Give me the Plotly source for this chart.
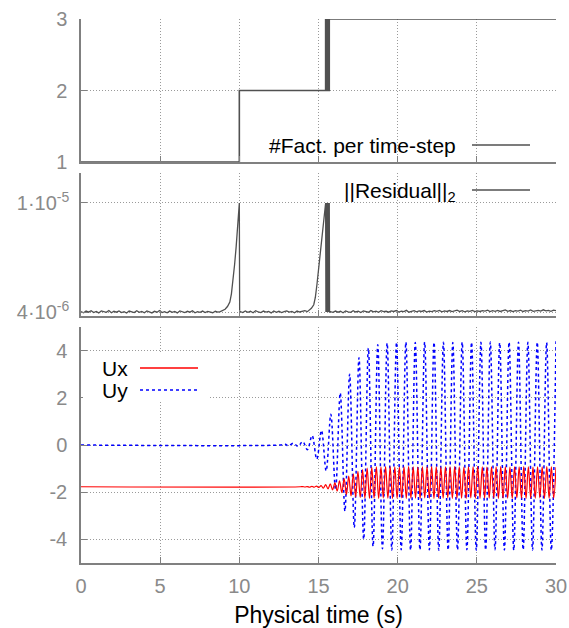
import numpy as np
import plotly.graph_objects as go

# ---------------- data ----------------
# Top panel: number of factorisations per time-step (step function)
fact_t = [0.0, 10.0, 15.45, 15.48, 15.51, 15.54, 15.57, 15.60, 15.63, 15.66, 15.68, 30.0]
fact_v = [1, 2, 3, 2, 3, 2, 3, 2, 3, 2, 3, 3]

# Middle panel: residual norm (units of 1e-6)
res_base1 = [4.02, 3.96, 4.05, 3.99, 4.07, 3.97, 4.03, 3.95, 4.06, 4.01, 3.98, 4.08, 3.96, 4.04,
             3.99, 4.06, 3.97, 4.02, 3.94, 4.05, 4.00, 3.97, 4.07, 3.98, 4.03, 3.96, 4.06, 4.01,
             3.95, 4.04, 3.99, 4.08, 3.97, 4.02, 3.96, 4.05, 3.98, 4.03, 3.95, 4.06, 4.00, 3.97,
             4.04, 3.99, 4.07, 3.96, 4.02, 3.98, 4.05, 3.97, 4.03, 4.00, 3.96, 4.04, 3.99, 4.02]
res_rise1_t = [8.9, 9.1, 9.25, 9.4, 9.5, 9.6, 9.7, 9.8, 9.88, 9.95, 10.0, 10.02]
res_rise1_v = [4.05, 4.15, 4.30, 4.55, 5.0, 5.7, 6.6, 7.6, 8.6, 9.5, 10.0, 4.0]
res_base2 = [4.03, 3.97, 4.06, 3.98, 4.04, 3.96, 4.07, 4.00, 3.97, 4.05, 3.99, 4.03, 3.95, 4.06,
             3.98, 4.04, 3.97, 4.02, 4.06, 3.99, 4.03, 3.96, 4.05, 4.00, 4.04, 4.07, 4.02]
res_rise2_t = [14.4, 14.55, 14.7, 14.8, 14.9, 15.0, 15.1, 15.2, 15.3, 15.38, 15.45,
               15.47, 15.50, 15.53, 15.56, 15.59, 15.62, 15.65, 15.68, 15.70]
res_rise2_v = [4.08, 4.2, 4.4, 4.8, 5.5, 6.3, 7.2, 8.1, 9.0, 9.6, 10.0,
               4.0, 10.0, 4.0, 10.0, 4.0, 10.0, 4.0, 10.0, 4.0]
res_base3 = [4.02, 3.98, 4.05, 3.99, 4.04, 3.96, 4.06, 4.01, 3.98, 4.07, 4.00, 4.04, 3.97, 4.06,
             4.02, 3.99, 4.08, 4.01, 4.05, 3.98, 4.07, 4.02, 4.04, 3.99, 4.06, 4.03, 4.08, 4.00,
             4.05, 4.02, 4.09, 3.99, 4.04, 4.07, 4.01, 4.06, 4.03, 4.08, 4.00, 4.05, 4.02, 4.07,
             4.04, 4.09, 4.01, 4.06, 4.03, 4.08, 4.02, 4.05, 4.10, 4.03, 4.07, 4.01, 4.06, 4.04,
             4.09, 4.02, 4.06, 4.03, 4.08, 4.05, 4.10, 4.02, 4.07, 4.04, 4.09, 4.03, 4.06, 4.11,
             4.04, 4.08, 4.02, 4.07, 4.05, 4.10, 4.03, 4.08, 4.05, 4.11, 4.04, 4.07, 4.09, 4.05,
             4.12, 4.06, 4.09, 4.04, 4.10, 4.07]

# Bottom panel: velocity components
uy_pre_t = [0.0, 12.6, 12.9, 13.1]
uy_pre_v = [0.0, 0.0, 0.03, -0.04]
uy_ext = [0.08, -0.06, 0.15, -0.20, 0.40, -0.60, 0.62, -1.10, 1.30, -1.90, 2.20, -2.80, 3.00,
          -3.50, 3.70, -4.00, 4.10, -4.30, 4.25, -4.40, 4.32,
          -4.45, 4.35, -4.44, 4.36, -4.46, 4.34, -4.45, 4.36, -4.44, 4.35, -4.46, 4.35,
          -4.45, 4.34, -4.45, 4.36, -4.44, 4.35, -4.46, 4.35, -4.45, 4.36, -4.44, 4.34,
          -4.45, 4.36, -4.46, 4.35, -4.44, 4.35, -4.45, 4.36, -4.45, 4.34, -4.46, 4.40]
ux_pre_t = [0.0, 13.85]
ux_pre_v = [-1.77, -1.77]
ux_ext = [-1.76, -1.78, -1.76, -1.79, -1.75, -1.79, -1.74, -1.80, -1.72, -1.83, -1.68, -1.86,
          -1.65, -1.90, -1.60, -1.95, -1.52, -2.02, -1.42, -2.10, -1.32, -2.16, -1.22, -2.20,
          -1.12, -2.23, -1.04, -2.25, -0.98, -2.26, -0.95,
          -2.25, -0.93, -2.26, -0.94, -2.24, -0.92, -2.25, -0.93, -2.26, -0.93, -2.25, -0.94,
          -2.24, -0.93, -2.26, -0.92, -2.25, -0.93, -2.25, -0.94, -2.26, -0.93, -2.24, -0.93,
          -2.25, -0.92, -2.26, -0.93, -2.25, -0.94, -2.25, -0.93, -2.24, -0.93, -2.26, -0.92,
          -2.25, -0.93, -2.25, -0.94, -2.26, -0.93, -2.24, -0.93, -2.25, -0.92, -2.26, -0.93,
          -2.25, -0.94, -2.25, -0.93, -2.24, -0.93, -2.26, -0.92, -2.25, -0.93, -2.25, -0.94,
          -2.26, -0.93, -2.24, -0.93, -2.25, -0.92, -2.26, -0.93, -2.25, -0.94, -2.25, -0.93,
          -2.24, -0.93, -2.26, -0.92, -2.25, -0.93, -2.25, -0.94]

x_ticks = [0, 5, 10, 15, 20, 25, 30]
y1_ticks = [1, 2, 3]
y2_ticks = [4.0, 10.0]
y2_ticktext = ["4·10<sup>-6</sup>", "1·10<sup>-5</sup>"]
y3_ticks = [-4, -2, 0, 2, 4]
y3_ticktext = ["-4", "-2", "0", "2", "4"]

# ------------- assemble series -------------
res_t = (list(np.linspace(0.0, 8.8, len(res_base1))) + res_rise1_t +
         list(np.linspace(10.05, 14.3, len(res_base2))) + res_rise2_t +
         list(np.linspace(15.75, 30.0, len(res_base3))))
res_v = res_base1 + res_rise1_v + res_base2 + res_rise2_v + res_base3

uy_t = uy_pre_t + list(np.linspace(13.41, 30.0, len(uy_ext)))
uy_v = uy_pre_v + uy_ext
ux_t = ux_pre_t + list(np.linspace(14.0, 30.0, len(ux_ext)))
ux_v = ux_pre_v + ux_ext

# ------------- figure -------------
FONT = "Liberation Sans, Arial, sans-serif"
W, H = 569, 628
L, R, T, B = 81, 13, 19, 65
PW, PH = W - L - R, H - T - B
TICK_SIZE = 20
KEY_SIZE = 21


def px(x):
    return (x - L) / PW


def py(y):
    return (H - B - y) / PH


fig = go.Figure()
fig.add_trace(go.Scatter(x=fact_t, y=fact_v, mode="lines", line=dict(color="#505050", width=1.6, shape="hv"),
                         xaxis="x", yaxis="y", showlegend=False))
fig.add_trace(go.Scatter(x=res_t, y=res_v, mode="lines", line=dict(color="#505050", width=1.3),
                         xaxis="x2", yaxis="y2", showlegend=False))
fig.add_trace(go.Scatter(x=uy_t, y=uy_v, mode="lines", line=dict(color="#0000ff", width=1.5, dash="dot", shape="spline"),
                         xaxis="x3", yaxis="y3", showlegend=False))
fig.add_trace(go.Scatter(x=ux_t, y=ux_v, mode="lines", line=dict(color="#ff0000", width=1.2, shape="spline"),
                         xaxis="x3", yaxis="y3", showlegend=False))

axis_common = dict(showline=True, linecolor="#808080", linewidth=1.5, ticks="inside", ticklen=6,
                   tickcolor="#808080", tickwidth=1.2, showgrid=True, gridcolor="#9a9a9a",
                   griddash="1px,2px", gridwidth=1, zeroline=False, automargin=False,
                   tickfont=dict(family=FONT, size=TICK_SIZE, color="#8a8a8a"))

d_top = [py(162), 1.0]
d_mid = [py(316), py(173)]
d_bot = [0.0, py(327)]

fig.update_layout(
    width=W, height=H, margin=dict(l=L, r=R, t=T, b=B, autoexpand=False),
    paper_bgcolor="white", plot_bgcolor="white",
    font=dict(family=FONT, size=19, color="black"),
    xaxis=dict(axis_common, domain=[0, 1], anchor="y", range=[0, 30], tickvals=x_ticks, showticklabels=False),
    yaxis=dict(axis_common, domain=d_top, anchor="x", range=[1, 3], tickvals=y1_ticks, ticklabelstandoff=8),
    xaxis2=dict(axis_common, domain=[0, 1], anchor="y2", range=[0, 30], tickvals=x_ticks, showticklabels=False),
    yaxis2=dict(axis_common, domain=d_mid, anchor="x2", range=[3.78, 11.65], tickvals=y2_ticks,
                ticktext=y2_ticktext, ticklabelstandoff=6),
    xaxis3=dict(axis_common, domain=[0, 1], anchor="y3", range=[0, 30], tickvals=x_ticks,
                ticklabelstandoff=4,
                title=dict(text="Physical time (s)", font=dict(family=FONT, size=23, color="black"), standoff=15)),
    yaxis3=dict(axis_common, domain=d_bot, anchor="x3", range=[-5, 5], tickvals=y3_ticks,
                ticktext=y3_ticktext, ticklabelstandoff=8),
)

shapes = [
    # white key box in bottom panel
    dict(type="rect", xref="paper", yref="paper", x0=px(83), x1=px(210), y0=py(401), y1=py(353),
         fillcolor="white", line=dict(width=0), layer="above"),
    dict(type="line", xref="paper", yref="paper", x0=px(472), x1=px(530), y0=py(145), y1=py(145),
         line=dict(color="#505050", width=1.3)),
    dict(type="line", xref="paper", yref="paper", x0=px(472), x1=px(530), y0=py(190), y1=py(190),
         line=dict(color="#505050", width=1.3)),
    dict(type="line", xref="paper", yref="paper", x0=px(140), x1=px(198), y0=py(368), y1=py(368),
         line=dict(color="#ff0000", width=1.5)),
    dict(type="line", xref="paper", yref="paper", x0=px(140), x1=px(198), y0=py(390), y1=py(390),
         line=dict(color="#0000ff", width=1.5, dash="dot")),
]
annotations = [
    dict(text="#Fact. per time-step", xref="paper", yref="paper", x=px(458), y=py(146),
         xanchor="right", yanchor="middle", showarrow=False, font=dict(family=FONT, size=KEY_SIZE, color="black")),
    dict(text="||Residual||<sub>2</sub>", xref="paper", yref="paper", x=px(458), y=py(192),
         xanchor="right", yanchor="middle", showarrow=False, font=dict(family=FONT, size=KEY_SIZE, color="black")),
    dict(text="Ux", xref="paper", yref="paper", x=px(100), y=py(368),
         xanchor="left", yanchor="middle", showarrow=False, font=dict(family=FONT, size=KEY_SIZE, color="black")),
    dict(text="Uy", xref="paper", yref="paper", x=px(100), y=py(390),
         xanchor="left", yanchor="middle", showarrow=False, font=dict(family=FONT, size=KEY_SIZE, color="black")),
]
fig.update_layout(shapes=shapes, annotations=annotations)

# remove the default 8px page margin so the figure sits at the window origin
fig.write_html("out.html", config={"displayModeBar": False},
               post_script="document.body.style.margin='0px';document.body.style.overflow='hidden';")
